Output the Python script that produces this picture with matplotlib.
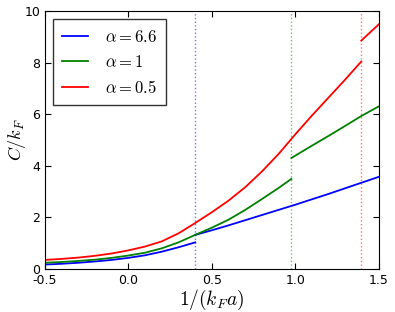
import matplotlib
matplotlib.use('Agg')
import matplotlib.pyplot as plt

plt.rcParams['mathtext.fontset'] = 'cm'

# critical 1/(k_F a) where each curve jumps
x_crit = [0.40, 0.976, 1.395]

# alpha = 6.6
x_b1 = [-0.5, -0.4, -0.3, -0.2, -0.1, 0.0, 0.1, 0.2, 0.3, 0.40]
y_b1 = [0.17, 0.20, 0.24, 0.29, 0.35, 0.43, 0.53, 0.67, 0.84, 1.03]
x_b2 = [0.40, 0.5, 0.6, 0.7, 0.8, 0.9, 1.0, 1.1, 1.2, 1.3, 1.4, 1.5]
y_b2 = [1.32, 1.50, 1.69, 1.89, 2.09, 2.29, 2.49, 2.70, 2.91, 3.13, 3.35, 3.57]

# alpha = 1
x_g1 = [-0.5, -0.4, -0.3, -0.2, -0.1, 0.0, 0.1, 0.2, 0.3, 0.4, 0.5, 0.6, 0.7, 0.8, 0.9, 0.976]
y_g1 = [0.24, 0.27, 0.31, 0.36, 0.43, 0.52, 0.63, 0.80, 1.03, 1.32, 1.60, 1.91, 2.29, 2.71, 3.14, 3.49]
x_g2 = [0.976, 1.1, 1.2, 1.3, 1.396, 1.5]
y_g2 = [4.30, 4.78, 5.16, 5.55, 5.93, 6.30]

# alpha = 0.5
x_r1 = [-0.5, -0.4, -0.3, -0.2, -0.1, 0.0, 0.1, 0.2, 0.3, 0.4, 0.5, 0.6, 0.7, 0.8, 0.9, 1.0, 1.1, 1.2, 1.3, 1.395]
y_r1 = [0.35, 0.39, 0.44, 0.51, 0.60, 0.72, 0.87, 1.07, 1.38, 1.78, 2.20, 2.65, 3.17, 3.78, 4.46, 5.22, 5.95, 6.65, 7.35, 8.04]
x_r2 = [1.395, 1.5]
y_r2 = [8.85, 9.48]

fig = plt.figure(figsize=(3.95, 3.12), dpi=100)
ax = fig.add_axes([0.114, 0.138, 0.845, 0.827])

ax.plot(x_b1, y_b1, color='b', lw=1.3, label=r'$\alpha=6.6$')
ax.plot(x_b2, y_b2, color='b', lw=1.3)
ax.plot(x_g1, y_g1, color='g', lw=1.3, label=r'$\alpha=1$')
ax.plot(x_g2, y_g2, color='g', lw=1.3)
ax.plot(x_r1, y_r1, color='r', lw=1.3, label=r'$\alpha=0.5$')
ax.plot(x_r2, y_r2, color='r', lw=1.3)

for xc, c in zip(x_crit, ['b', 'g', 'r']):
    ax.axvline(xc, color=c, ls=':', lw=1, alpha=0.55)

ax.set_xlim(-0.5, 1.5)
ax.set_ylim(0, 10)
ax.set_xticks([-0.5, 0.0, 0.5, 1.0, 1.5])
ax.set_xticklabels(['-0.5', '0.0', '0.5', '1.0', '1.5'])
ax.set_yticks([0, 2, 4, 6, 8, 10])
ax.tick_params(direction='in', top=True, right=True, labelsize=9, length=4)
ax.set_xlabel(r'$1/(k_F a)$', fontsize=14, labelpad=1)
ax.set_ylabel(r'$C/k_F$', fontsize=13)
ax.yaxis.set_label_coords(-0.05, 0.5)

leg = ax.legend(loc='upper left', fontsize=12, fancybox=False, handlelength=1.6,
                handletextpad=1.0, labelspacing=0.45, borderpad=0.5)
leg.get_frame().set_edgecolor('k')
leg.get_frame().set_linewidth(1)

fig.savefig('out.png', dpi=100, facecolor='white')
